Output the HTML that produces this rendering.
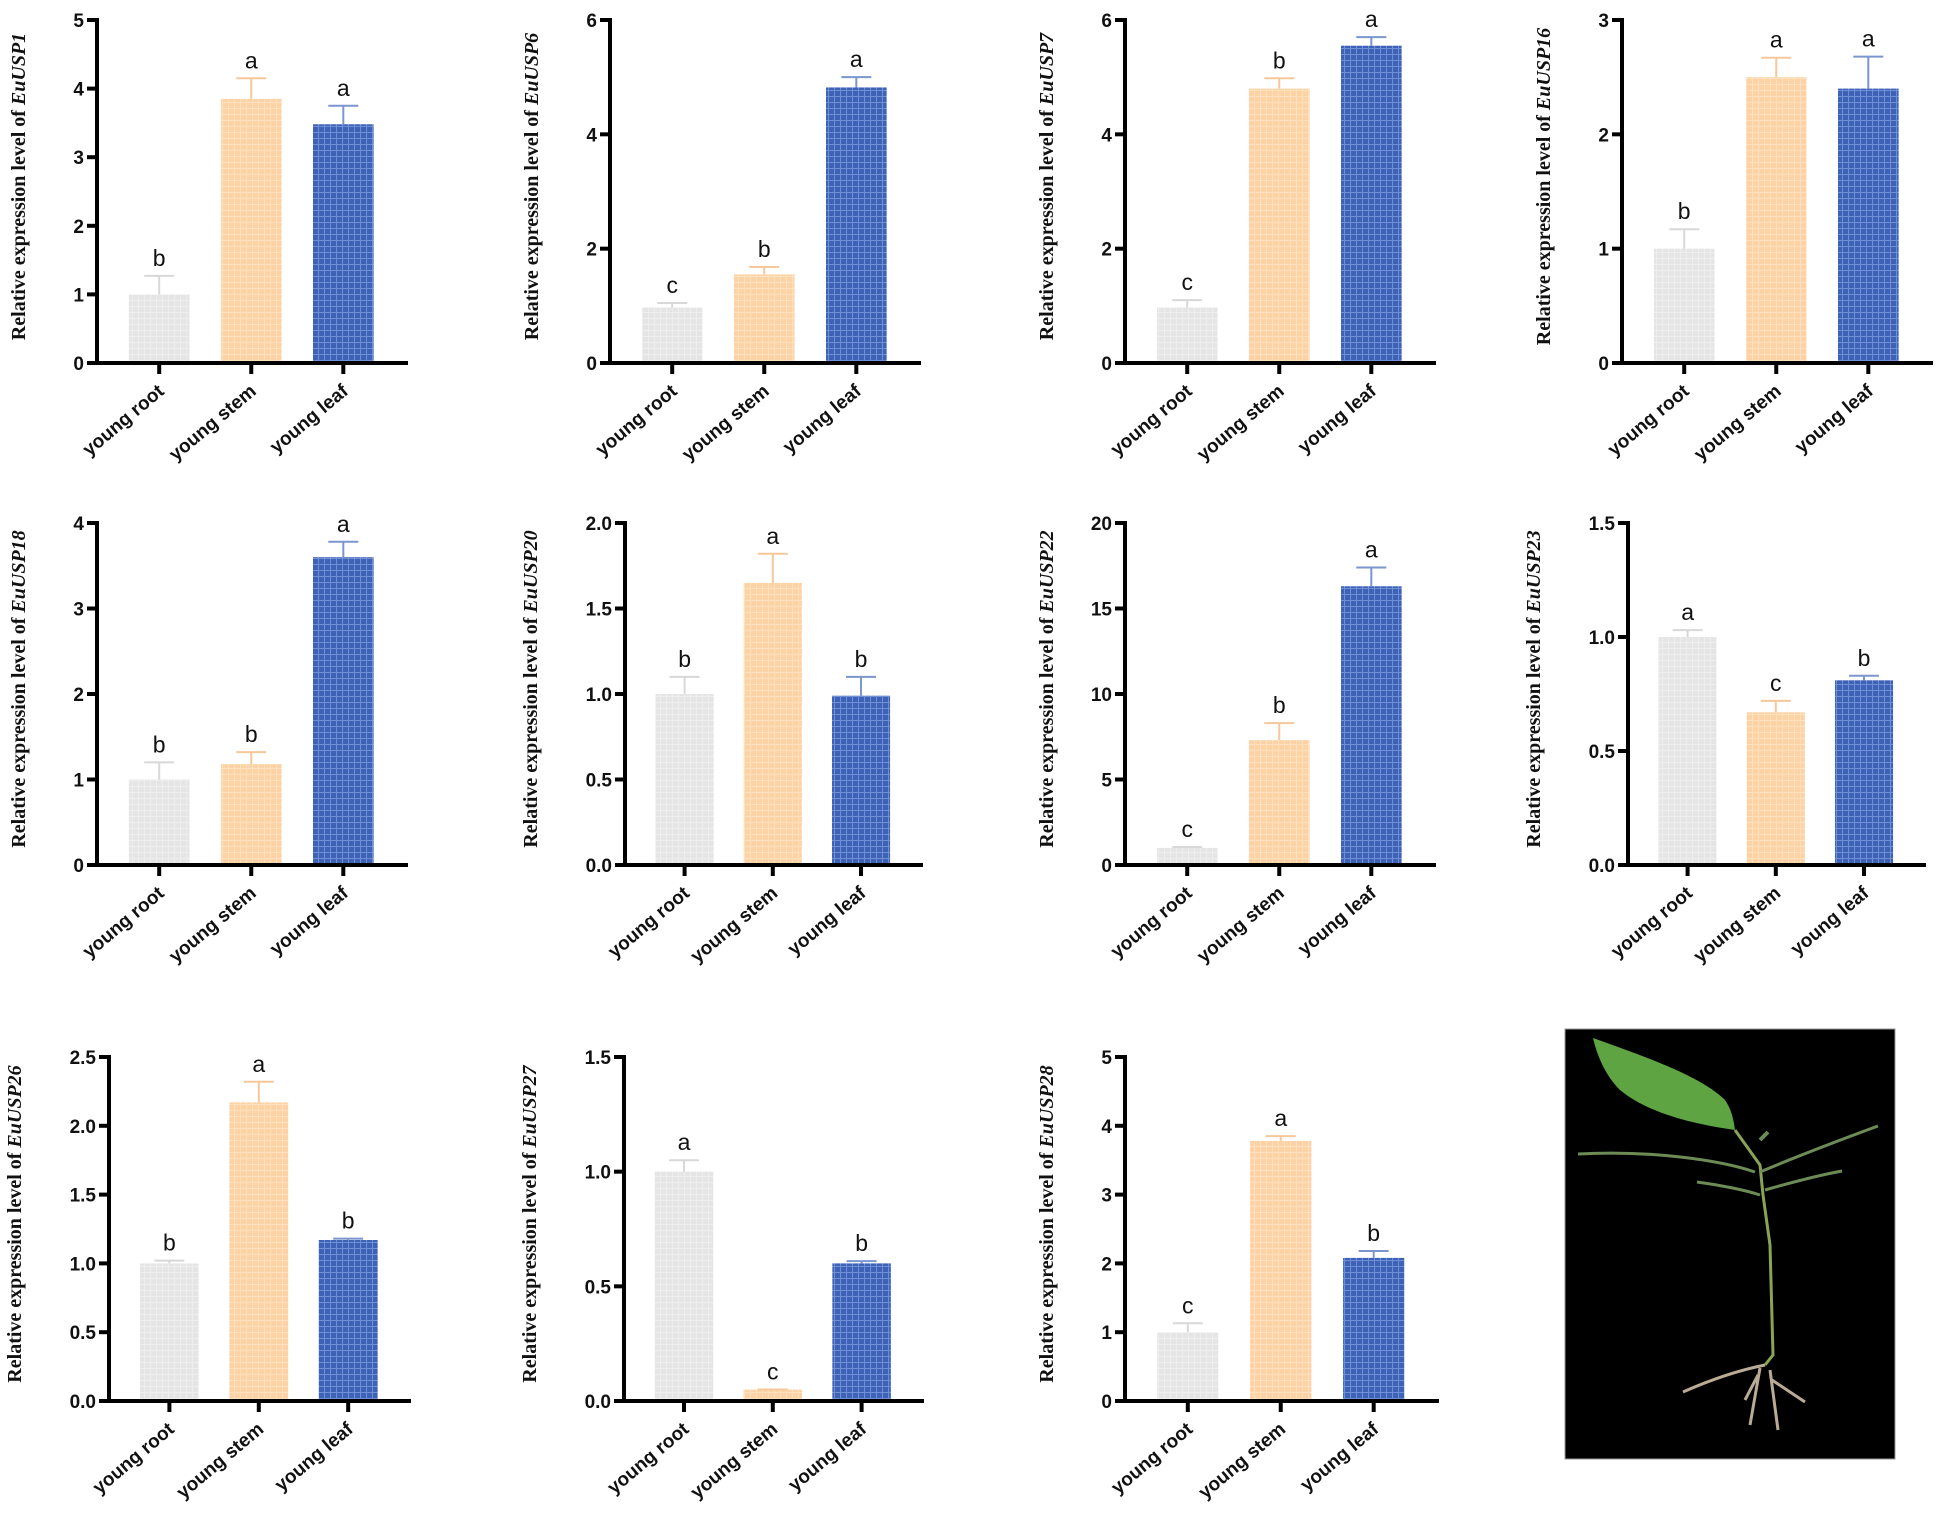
<!DOCTYPE html>
<html><head><meta charset="utf-8">
<style>
html,body{margin:0;padding:0;background:#fff;}
svg{display:block;}
text{font-family:"Liberation Sans",Arial,sans-serif;}
text.serif{font-family:"Liberation Serif","Times New Roman",serif;}
</style></head>
<body>
<svg id="fig" width="1949" height="1529" viewBox="0 0 1949 1529" xmlns="http://www.w3.org/2000/svg">
<defs>
<pattern id="gridBlue" width="6" height="6" patternUnits="userSpaceOnUse">
<rect width="6" height="6" fill="#3d62b6"/><path d="M0 0.5H6M0.5 0V6" stroke="#6f8fd6" stroke-width="1"/>
</pattern>
<pattern id="gridOrange" width="6" height="6" patternUnits="userSpaceOnUse">
<rect width="6" height="6" fill="#fdd3a5"/><path d="M0 0.5H6M0.5 0V6" stroke="#fde0be" stroke-width="1"/>
</pattern>
<pattern id="gridGray" width="6" height="6" patternUnits="userSpaceOnUse">
<rect width="6" height="6" fill="#e5e5e5"/><path d="M0 0.5H6M0.5 0V6" stroke="#eeeeee" stroke-width="1"/>
</pattern>
</defs>
<g id="photo">
<rect x="1565" y="1029" width="330" height="430" fill="#000" stroke="#999" stroke-width="1"/>
<path d="M1593 1038 C1640 1055 1700 1075 1725 1100 C1732 1110 1734 1122 1735 1130 C1700 1125 1650 1115 1620 1090 C1605 1075 1597 1055 1593 1038Z" fill="#5ea443"/>
<path d="M1735 1130 L1760 1165 L1763 1195 L1770 1245 L1773 1355 L1765 1365" stroke="#8aa455" stroke-width="3" fill="none"/>
<path d="M1578 1154 C1650 1150 1720 1160 1755 1172" stroke="#6d8b55" stroke-width="3" fill="none"/>
<path d="M1760 1172 C1800 1155 1840 1140 1878 1126" stroke="#6d8b55" stroke-width="3" fill="none"/>
<path d="M1697 1182 C1720 1185 1745 1190 1760 1195" stroke="#6d8b55" stroke-width="3" fill="none"/>
<path d="M1765 1190 C1800 1180 1820 1175 1842 1171" stroke="#6d8b55" stroke-width="3" fill="none"/>
<path d="M1760 1140 L1768 1132" stroke="#6d8b55" stroke-width="4"/>
<path d="M1765 1365 C1740 1370 1710 1380 1683 1392 M1760 1368 L1750 1425 M1770 1370 L1778 1430 M1772 1380 L1805 1402 M1758 1375 L1745 1400" stroke="#b9ab94" stroke-width="3" fill="none"/>
</g>
</svg>
<script>
// ---- chart data (one small array per series) ----
const categories = ["young root", "young stem", "young leaf"];
const geneNames = ["EuUSP1","EuUSP6","EuUSP7","EuUSP16","EuUSP18","EuUSP20","EuUSP22","EuUSP23","EuUSP26","EuUSP27","EuUSP28"];
const yMaxes = [5, 6, 6, 3, 4, 2, 20, 1.5, 2.5, 1.5, 5];
const yTickSteps = [1, 2, 2, 1, 1, 0.5, 5, 0.5, 0.5, 0.5, 1];
const rootValues = [1.0, 0.97, 0.97, 1.0, 1.0, 1.0, 1.0, 1.0, 1.0, 1.0, 1.0];
const stemValues = [3.85, 1.55, 4.8, 2.5, 1.18, 1.65, 7.3, 0.67, 2.17, 0.05, 3.78];
const leafValues = [3.48, 4.82, 5.55, 2.4, 3.6, 0.99, 16.3, 0.81, 1.17, 0.6, 2.08];
const rootErrors = [0.27, 0.08, 0.13, 0.17, 0.2, 0.1, 0.05, 0.03, 0.02, 0.05, 0.13];
const stemErrors = [0.3, 0.13, 0.18, 0.17, 0.14, 0.17, 1.0, 0.05, 0.15, 0.0, 0.07];
const leafErrors = [0.27, 0.18, 0.15, 0.28, 0.18, 0.11, 1.1, 0.02, 0.01, 0.01, 0.1];
const rootLetters = ["b","c","c","b","b","b","c","a","b","a","c"];
const stemLetters = ["a","b","b","a","b","a","b","c","a","c","a"];
const leafLetters = ["a","a","a","a","a","b","a","b","b","b","b"];

// layout (not data)
const panelLayout = [
 {ax:97,w:311,top:20,bot:363},{ax:610,w:311,top:20,bot:363},{ax:1125,w:311,top:20,bot:363},{ax:1622,w:311,top:20,bot:363},
 {ax:97,w:311,top:523,bot:865},{ax:625,w:298,top:523,bot:865},{ax:1125,w:311,top:523,bot:865},{ax:1628,w:298,top:523,bot:865},
 {ax:109,w:302,top:1057,bot:1401},{ax:624,w:300,top:1057,bot:1401},{ax:1125,w:314,top:1057,bot:1401}
];
const fills = ["url(#gridGray)","url(#gridOrange)","url(#gridBlue)"];
const errColors = ["#d8d8d8","#f5c89a","#7b95cf"];
const NS = "http://www.w3.org/2000/svg";
const svg = document.getElementById("fig");
function mk(tag, attrs, parent){
  const e = document.createElementNS(NS, tag);
  for (const k in attrs) e.setAttribute(k, attrs[k]);
  parent.appendChild(e);
  return e;
}
function fmt(v, step){ return step < 1 ? v.toFixed(1) : String(Math.round(v)); }

geneNames.forEach((gene, p) => {
  const L = panelLayout[p];
  const yMax = yMaxes[p], step = yTickSteps[p];
  const yScale = v => L.bot - (v / yMax) * (L.bot - L.top);
  const xCenter = i => L.ax + L.w * (0.2 + 0.296 * i);
  const bw = L.w * 0.195;
  const g = mk("g", {}, svg);
  
  

  const vals = [rootValues[p], stemValues[p], leafValues[p]];
  const errs = [rootErrors[p], stemErrors[p], leafErrors[p]];
  const lets = [rootLetters[p], stemLetters[p], leafLetters[p]];

  vals.forEach((v, i) => {
    const cx = xCenter(i);
    const bar = mk("rect", {x: cx - bw/2, y: yScale(v), width: bw, height: L.bot - yScale(v), fill: fills[i]}, g);
    
    
    const et = yScale(v + errs[i]);
    const eb = mk("path", {d: `M${cx} ${yScale(v)}V${et}M${cx-15} ${et}H${cx+15}`, stroke: errColors[i], "stroke-width": 2, fill: "none"}, g);
    
    
    const lt = mk("text", {x: cx, y: et - 10, "text-anchor": "middle", "font-size": 23, fill: "#111"}, g);
    lt.textContent = lets[i];
    
    
    const tk = mk("line", {x1: cx, y1: L.bot, x2: cx, y2: L.bot + 11, stroke: "#000", "stroke-width": 4}, g);
    
    
    const cl = mk("text", {x: 0, y: 0, "text-anchor": "end", "font-size": 19, "font-weight": "bold", fill: "#111",
      transform: `translate(${cx + 6},${L.bot + 30}) rotate(-40)`}, g);
    cl.textContent = categories[i];
    
    
  });

  const ya = mk("line", {x1: L.ax, y1: L.top - 2, x2: L.ax, y2: L.bot + 2, stroke: "#000", "stroke-width": 4}, g);
  
  
  const xa = mk("line", {x1: L.ax - 2, y1: L.bot, x2: L.ax + L.w, y2: L.bot, stroke: "#000", "stroke-width": 4}, g);
  
  

  for (let t = 0; t <= yMax + 1e-9; t += step) {
    const y = yScale(t);
    const tk = mk("line", {x1: L.ax - 10, y1: y, x2: L.ax, y2: y, stroke: "#000", "stroke-width": 4}, g);
    
    
    const tl = mk("text", {x: L.ax - 13, y: y + 7, "text-anchor": "end", "font-size": 19, "font-weight": "bold", fill: "#111"}, g);
    tl.textContent = fmt(t, step);
    
    
  }

  const titleX = L.ax - (step < 1 ? 88 : 72);
  const ty = mk("text", {x: 0, y: 0, "text-anchor": "middle", "font-size": 20, "font-weight": "bold", "class": "serif", fill: "#111",
    transform: `translate(${titleX},${(L.top + L.bot) / 2 - 5}) rotate(-90)`}, g);
  
  
  ty.appendChild(document.createTextNode("Relative expression level of  "));
  const it = mk("tspan", {"font-style": "italic"}, ty);
  it.textContent = gene;
});
</script>
</body></html>
